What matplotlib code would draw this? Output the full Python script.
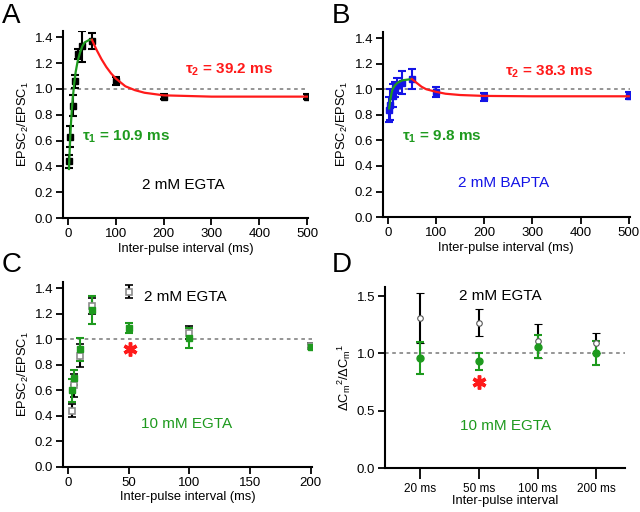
import matplotlib
matplotlib.use('Agg')
import matplotlib.pyplot as plt
from matplotlib.ticker import FormatStrFormatter

plt.rcParams['font.family'] = ['Liberation Sans', 'DejaVu Sans']
plt.rcParams['mathtext.fontset'] = 'custom'
plt.rcParams['mathtext.rm'] = 'Liberation Sans'
plt.rcParams['mathtext.it'] = 'Liberation Sans:italic'
plt.rcParams['mathtext.bf'] = 'Liberation Sans:bold'
plt.rcParams['mathtext.default'] = 'regular'

GREEN = '#1e9a1e'
BLUE = '#1414e6'
RED = '#ff1a1a'
GRAY = '#8c8c8c'

# --- panel A : 2 mM EGTA
a_x = [3, 5, 10, 15, 20, 30, 50, 100, 200, 500]
a_y = [0.44, 0.63, 0.87, 1.06, 1.27, 1.33, 1.37, 1.06, 0.94, 0.94]
a_err = [0.05, 0.08, 0.08, 0.05, 0.04, 0.12, 0.06, 0.03, 0.02, 0.02]
# fitted curves
a_rise_x = [2, 4, 6, 8, 10, 13, 16, 20, 25, 30, 35, 40, 45, 50]
a_rise_y = [0.38, 0.57, 0.72, 0.84, 0.93, 1.04, 1.13, 1.21, 1.28, 1.33, 1.36, 1.37, 1.38, 1.38]
a_decay_x = [50, 60, 70, 80, 90, 100, 120, 140, 160, 200, 250, 300, 400, 500]
a_decay_y = [1.38, 1.30, 1.23, 1.17, 1.12, 1.08, 1.02, 0.99, 0.97, 0.95, 0.945, 0.94, 0.94, 0.94]

# --- panel B : 2 mM BAPTA
b_x = [3, 5, 10, 15, 20, 30, 50, 100, 200, 500]
b_y = [0.84, 0.88, 0.95, 1.00, 1.03, 1.05, 1.08, 0.98, 0.94, 0.95]
b_err = [0.10, 0.12, 0.09, 0.06, 0.06, 0.09, 0.08, 0.04, 0.03, 0.03]
b_rise_x = [3, 5, 8, 10, 15, 20, 30, 40, 50]
b_rise_y = [0.85, 0.91, 0.97, 1.00, 1.03, 1.05, 1.07, 1.075, 1.08]
b_decay_x = [50, 60, 70, 80, 100, 120, 150, 200, 300, 500]
b_decay_y = [1.08, 1.05, 1.02, 1.00, 0.98, 0.965, 0.955, 0.948, 0.945, 0.945]

# --- panel C : 2 mM vs 10 mM EGTA
c_x = [3, 5, 10, 20, 50, 100, 200]
c_egta2 = [0.44, 0.64, 0.87, 1.26, 1.37, 1.05, 0.95]
c_egta2_err = [0.05, 0.09, 0.09, 0.06, 0.05, 0.05, 0.02]
c_egta10 = [0.60, 0.70, 0.92, 1.23, 1.09, 1.01, 0.94]
c_egta10_err = [0.09, 0.06, 0.09, 0.11, 0.04, 0.08, 0.02]
c_star_x = [51]
c_star_y = [0.92]

# --- panel D : capacitance ratio
d_cats = ['20 ms', '50 ms', '100 ms', '200 ms']
d_egta2 = [1.31, 1.27, 1.11, 1.09]
d_egta2_err = [0.22, 0.12, 0.15, 0.09]
d_egta10 = [0.96, 0.93, 1.06, 1.00]
d_egta10_err = [0.14, 0.07, 0.10, 0.105]
d_star_idx = [1]
d_star_y = [0.75]

fig = plt.figure(figsize=(6.4, 5.12), dpi=100)

axA = fig.add_axes([0.0984, 0.574, 0.383, 0.366])
axB = fig.add_axes([0.598, 0.576, 0.386, 0.362])
axC = fig.add_axes([0.0984, 0.0879, 0.389, 0.362])
axD = fig.add_axes([0.6016, 0.0859, 0.375, 0.3535])


def style(ax):
    for s in ['top', 'right']:
        ax.spines[s].set_visible(False)
    for s in ['left', 'bottom']:
        ax.spines[s].set_linewidth(1.5)
    ax.tick_params(direction='out', length=5, width=1.3, labelsize=9.5, pad=2)
    ax.axhline(1.0, color=GRAY, lw=1.3, ls=(0, (2, 2)), zorder=0)


ebkw = dict(capsize=3, elinewidth=1.5, capthick=1.5, ls='none')

# A
style(axA)
axA.errorbar(a_x, a_y, yerr=a_err, marker='s', ms=5, color='black', **ebkw)
axA.plot(a_rise_x, a_rise_y, color=GREEN, lw=1.6, zorder=3)
axA.plot(a_decay_x, a_decay_y, color=RED, lw=1.6, zorder=3)
axA.set_xlim(-10.5, 502)
axA.set_ylim(0, 1.45)
axA.set_xticks([0, 100, 200, 300, 400, 500])
axA.set_yticks([0, 0.2, 0.4, 0.6, 0.8, 1.0, 1.2, 1.4])
axA.yaxis.set_major_formatter(FormatStrFormatter('%.1f'))
axA.set_xlabel('Inter-pulse interval (ms)', fontsize=9.3, labelpad=2)
axA.set_ylabel('EPSC$_2$/EPSC$_1$', fontsize=9.3, labelpad=3)
axA.text(245, 1.145, r'$\mathbf{\tau_2}$ = 39.2 ms', color=RED, fontsize=11,
         fontweight='bold', va='center')
axA.text(29, 0.63, r'$\mathbf{\tau_1}$ = 10.9 ms', color=GREEN, fontsize=11,
         fontweight='bold', va='center')
axA.text(241, 0.255, '2 mM EGTA', color='black', fontsize=11, ha='center', va='center')

# B
style(axB)
axB.errorbar(b_x, b_y, yerr=b_err, marker='s', ms=4.5, color=BLUE, **ebkw)
axB.plot(b_rise_x, b_rise_y, color=GREEN, lw=1.6, zorder=3)
axB.plot(b_decay_x, b_decay_y, color=RED, lw=1.6, zorder=3)
axB.set_xlim(-10.4, 502)
axB.set_ylim(0, 1.45)
axB.set_xticks([0, 100, 200, 300, 400, 500])
axB.set_yticks([0, 0.2, 0.4, 0.6, 0.8, 1.0, 1.2, 1.4])
axB.yaxis.set_major_formatter(FormatStrFormatter('%.1f'))
axB.set_xlabel('Inter-pulse interval (ms)', fontsize=9.3, labelpad=2)
axB.set_ylabel('EPSC$_2$/EPSC$_1$', fontsize=9.3, labelpad=3)
axB.text(243, 1.14, r'$\mathbf{\tau_2}$ = 38.3 ms', color=RED, fontsize=11,
         fontweight='bold', va='center')
axB.text(29, 0.625, r'$\mathbf{\tau_1}$ = 9.8 ms', color=GREEN, fontsize=11,
         fontweight='bold', va='center')
axB.text(240, 0.266, '2 mM BAPTA', color=BLUE, fontsize=11, ha='center', va='center')

# C
style(axC)
axC.errorbar(c_x, c_egta2, yerr=c_egta2_err, marker='s', ms=4.5, mfc='white',
             mec=GRAY, mew=1.2, ecolor='black', color='black', **ebkw)
axC.errorbar(c_x, c_egta10, yerr=c_egta10_err, marker='s', ms=5, color=GREEN, **ebkw)
axC.plot(c_star_x, c_star_y, ls='none', marker=(6, 2, 0), ms=10, mew=2.5, color=RED)
axC.set_xlim(-4.1, 201)
axC.set_ylim(0, 1.45)
axC.set_xticks([0, 50, 100, 150, 200])
axC.set_yticks([0, 0.2, 0.4, 0.6, 0.8, 1.0, 1.2, 1.4])
axC.yaxis.set_major_formatter(FormatStrFormatter('%.1f'))
axC.set_xlabel('Inter-pulse interval (ms)', fontsize=9.3, labelpad=2)
axC.set_ylabel('EPSC$_2$/EPSC$_1$', fontsize=9.3, labelpad=3)
axC.text(63, 1.33, '2 mM EGTA', color='black', fontsize=11, va='center')
axC.text(98, 0.34, '10 mM EGTA', color=GREEN, fontsize=11, ha='center', va='center')

# D
style(axD)
pos = list(range(len(d_cats)))
axD.errorbar(pos, d_egta2, yerr=d_egta2_err, marker='o', ms=4, mfc='white',
             mec='#555555', mew=0.8, color='black', **ebkw)
axD.errorbar(pos, d_egta10, yerr=d_egta10_err, marker='o', ms=5, color=GREEN, **ebkw)
axD.plot([pos[i] for i in d_star_idx], d_star_y, ls='none', marker=(6, 2, 0), ms=10,
         mew=2.5, color=RED)
axD.set_xlim(-0.6, 3.49)
axD.set_ylim(0, 1.58)
axD.set_xticks(pos)
axD.set_xticklabels(d_cats)
axD.set_yticks([0, 0.5, 1.0, 1.5])
axD.yaxis.set_major_formatter(FormatStrFormatter('%.1f'))
axD.tick_params(axis='x', length=8, labelsize=8.5, pad=3)
axD.set_xlabel('Inter-pulse interval', fontsize=9.3, labelpad=0)
axD.set_ylabel(r'$\Delta C_m{}^2/\Delta C_m{}^1$', fontsize=9.3, labelpad=3)
axD.text(1.37, 1.5, '2 mM EGTA', color='black', fontsize=11, ha='center', va='center')
axD.text(1.45, 0.37, '10 mM EGTA', color=GREEN, fontsize=11, ha='center', va='center')

# panel letters
for lab, x, y in [('A', 0.003, 0.995), ('B', 0.518, 0.995),
                  ('C', 0.003, 0.508), ('D', 0.518, 0.508)]:
    fig.text(x, y, lab, fontsize=20, va='top', ha='left')

fig.savefig('out.png', dpi=100)
